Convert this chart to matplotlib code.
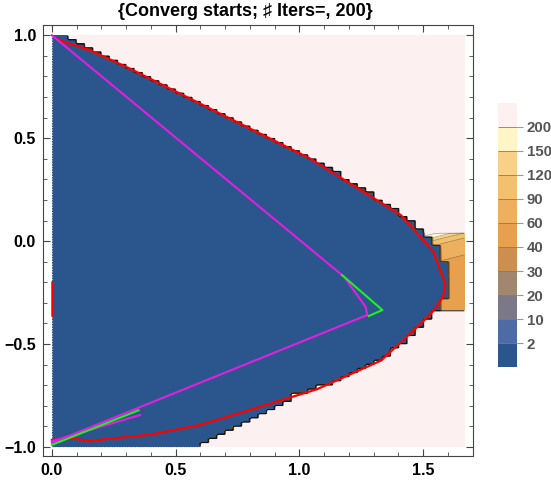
import numpy as np
import matplotlib
matplotlib.use("Agg")
import matplotlib.pyplot as plt

plt.rcParams['font.family'] = ['Liberation Sans', 'DejaVu Sans']
plt.rcParams['font.weight'] = 'bold'

# iteration-count levels and their colours
levels = [0, 2, 10, 20, 30, 40, 60, 90, 120, 150, 200, 1000]
level_colors = ['#2b568d', '#4f6ba6', '#7c7888', '#a08770', '#cc8f4f', '#e7a04d',
                '#ecb05e', '#f2c06f', '#f8d088', '#fff5c6', '#fdf0f0']

# edge of the fast-converging (blue) region: x limit for each y
edge_y = [-1.0, -0.95, -0.9, -0.85, -0.8, -0.75, -0.7, -0.65, -0.6, -0.55, -0.5, -0.45,
          -0.4, -0.35, -0.3, -0.25, -0.2, -0.15, -0.1, -0.05, 0.0, 0.05, 0.1, 0.2, 0.3,
          0.4, 0.5, 0.6, 0.7, 0.8, 0.84, 0.88, 0.92, 0.96, 1.0]
edge_x = [0.60, 0.66, 0.75, 0.85, 0.915, 0.98, 1.10, 1.20, 1.29, 1.36, 1.41, 1.46,
          1.51, 1.55, 1.58, 1.60, 1.61, 1.60, 1.585, 1.57, 1.54, 1.50, 1.45, 1.325, 1.195,
          1.06, 0.895, 0.725, 0.56, 0.395, 0.33, 0.265, 0.19, 0.11, 0.05]

# slow starts on the right, iterations by height
slow_y = [-0.34, -0.30, -0.20, -0.10, -0.05, 0.0, 0.02, 0.04, 0.05]
slow_v = [45, 45, 48, 58, 72, 95, 130, 175, 210]

# red boundary curve
red_x = [0.02, 0.03, 0.154, 0.315, 1.04, 1.41, 1.54, 1.59, 1.58, 1.54, 1.50, 1.33,
         1.07, 0.80, 0.60, 0.40, 0.22, 0.154, 0.09, 0.0]
red_y = [0.985, 0.976, 0.927, 0.838, 0.403, 0.126, -0.05, -0.21, -0.27, -0.34, -0.39,
         -0.58, -0.72, -0.82, -0.893, -0.94, -0.962, -0.972, -0.96, -0.966]
red_seg_y = [-0.20, -0.36]

# iteration paths
mag_x = [0.0, 1.18, 1.267, 1.274, 0.0]
mag_y = [1.0, -0.173, -0.319, -0.359, -0.98]
mag2_x = [0.0, 0.356]
mag2_y = [-0.972, -0.845]
grn_x = [1.172, 1.335, 1.28]
grn_y = [-0.165, -0.335, -0.364]
grn2_x = [0.0, 0.35]
grn2_y = [-0.99, -0.822]

# sample cells, then subdivide each cell so the edges stay blocky
nx, ny, sub = 50, 100, 4
xe = np.linspace(0, 1.67, nx + 1)
ye = np.linspace(-1, 1, ny + 1)
xc = 0.5 * (xe[:-1] + xe[1:])
yc = 0.5 * (ye[:-1] + ye[1:])
XC, YC = np.meshgrid(xc, yc)
inside_c = XC < np.interp(YC, edge_y, edge_x)
slow_c = (~inside_c) & (YC >= -0.34) & (YC <= 0.05) & (XC > 1.47)

off = (np.arange(sub) + 0.5) / sub
xf = (xe[:-1, None] + off[None, :] * np.diff(xe)[:, None]).ravel()
yf = (ye[:-1, None] + off[None, :] * np.diff(ye)[:, None]).ravel()
X, Y = np.meshgrid(xf, yf)
inside = np.kron(inside_c, np.ones((sub, sub), bool))
slow = np.kron(slow_c, np.ones((sub, sub), bool))
Z = np.where(inside, 1.0, 400.0)
Z = np.where(slow, np.interp(Y - 0.3 * (X - 1.58), slow_y, slow_v), Z)

fig = plt.figure(figsize=(5.51, 4.83), dpi=100)
ax = fig.add_axes([0.078, 0.0559, 0.780, 0.892])

cf = ax.contourf(X, Y, Z, levels=levels, colors=level_colors)
ax.contour(X, Y, Z, levels=levels[1:-1], colors='k', linewidths=0.5, alpha=0.35)
ax.plot([0.002, 0.002], [-1, 1], color='#c8d4e4', lw=0.7, ls=':')
ax.plot([0, 0.6], [-0.998, -0.998], color='#c8d4e4', lw=0.7, ls=':')

ax.plot(red_x, red_y, color='red', lw=1.6)
ax.plot([0, 0], red_seg_y, color='red', lw=1.8)
ax.plot(mag_x, mag_y, color='#e020e0', lw=1.5)
ax.plot(mag2_x, mag2_y, color='#e020e0', lw=1.5)
ax.plot(grn_x, grn_y, color='#20f020', lw=1.5)
ax.plot(grn2_x, grn2_y, color='#20f020', lw=1.5)

ax.set_xlim(-0.036, 1.70)
ax.set_ylim(-1.044, 1.049)
ax.set_xticks([0, 0.5, 1.0, 1.5])
ax.set_yticks([-1.0, -0.5, 0.0, 0.5, 1.0])
ax.set_xticklabels(['0.0', '0.5', '1.0', '1.5'])
ax.set_yticklabels(['\u22121.0', '\u22120.5', '0.0', '0.5', '1.0'])
ax.set_xticks(np.arange(-0.0, 1.71, 0.1), minor=True)
ax.set_yticks(np.arange(-1.0, 1.01, 0.1), minor=True)
ax.tick_params(which='both', direction='in', top=True, right=True, color='#444444')
ax.tick_params(which='major', length=5, labelsize=11.5, pad=5)
ax.tick_params(which='minor', length=3)
for s in ax.spines.values():
    s.set_color('#444444')
    s.set_linewidth(0.8)
fig.text(245 / 551, 1 - 11 / 483, '{Converg starts; \u266f Iters=, 200}', fontsize=13,
         fontweight='bold', ha='center', va='center')

cax = fig.add_axes([0.904, 0.240, 0.0345, 0.547])
cb = fig.colorbar(cf, cax=cax, drawedges=True)
cb.outline.set_visible(False)
cb.dividers.set_color('#8a7a6a')
cb.dividers.set_linewidth(0.6)
cb.set_ticks(levels[1:-1])
cb.set_ticklabels([str(v) for v in levels[1:-1]])
cax.tick_params(length=4, pad=3, color='#999999', labelcolor='#555555', labelsize=10.8)

fig.savefig('out.png', dpi=100)
